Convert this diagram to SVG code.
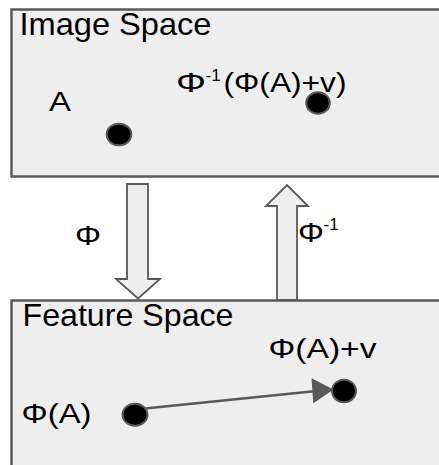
<svg xmlns="http://www.w3.org/2000/svg" width="439" height="465" viewBox="0 0 439 465">
  <style>
    .panel { fill: #eeeeee; stroke: #595959; stroke-width: 2.5; }
    .block { fill: #eeeeee; stroke: #595959; stroke-width: 1.8; stroke-linejoin: miter; }
    .dot { fill: #000000; stroke: #595959; stroke-width: 2; }
    .vec { stroke: #595959; stroke-width: 2.5; fill: none; }
    .head { fill: #595959; stroke: none; }
    text { font-family: "Liberation Sans", Arial, sans-serif; fill: #000000; }
    .title { font-size: 30.5px; }
    .lbl { font-size: 28px; }
    .sup { font-size: 17px; }
  </style>
  <rect width="439" height="465" fill="#ffffff"/>

  <!-- Image space panel -->
  <g id="image-space">
    <rect class="panel" x="11.5" y="9.5" width="440" height="167"/>
    <text class="title" x="19.5" y="34.5" textLength="192" lengthAdjust="spacingAndGlyphs">Image Space</text>
  </g>

  <!-- Feature space panel -->
  <g id="feature-space">
    <rect class="panel" x="11.5" y="300.5" width="440" height="180"/>
    <text class="title" x="22.5" y="326" textLength="211" lengthAdjust="spacingAndGlyphs">Feature Space</text>
  </g>

  <!-- Mapping arrows between the spaces -->
  <g id="phi-arrow">
    <polygon class="block" points="127,184 148,184 148,279 160,279 138,298.5 116,279 127,279"/>
    <text class="lbl" x="75" y="245" textLength="26" lengthAdjust="spacingAndGlyphs">Φ</text>
  </g>
  <g id="phi-inv-arrow">
    <polygon class="block" points="277,300 277,206 266,206 287,185 308,206 297,206 297,300"/>
    <text class="lbl" x="298" y="241.5"><tspan textLength="26" lengthAdjust="spacingAndGlyphs">Φ</tspan><tspan class="sup" x="323.5" y="230">-1</tspan></text>
  </g>

  <!-- Connectors -->
  <g id="connectors">
    <line class="vec" x1="140" y1="409" x2="314" y2="391.3"/>
    <polygon class="head" points="311.5,378.3 333.5,389.5 313.3,403.3"/>
  </g>

  <!-- Points in image space -->
  <g id="point-a">
    <ellipse class="dot" cx="119" cy="134.5" rx="12.3" ry="10.8"/>
    <text class="lbl" x="49" y="110.7" textLength="22" lengthAdjust="spacingAndGlyphs">A</text>
  </g>
  <g id="point-a-moved">
    <ellipse class="dot" cx="318" cy="103" rx="11.8" ry="10.8"/>
    <text class="lbl" x="176" y="92.3"><tspan textLength="30" lengthAdjust="spacingAndGlyphs">Φ</tspan><tspan class="sup" x="205.5" y="81">-1</tspan><tspan x="223.5" y="92.3" textLength="123" lengthAdjust="spacingAndGlyphs">(Φ(A)+v)</tspan></text>
  </g>

  <!-- Points in feature space -->
  <g id="point-phi-a">
    <ellipse class="dot" cx="135" cy="414.7" rx="12.5" ry="11"/>
    <text class="lbl" x="21.5" y="423" textLength="70" lengthAdjust="spacingAndGlyphs">Φ(A)</text>
  </g>
  <g id="point-phi-a-v">
    <ellipse class="dot" cx="344" cy="391" rx="12" ry="11.3"/>
    <text class="lbl" x="268.5" y="358.3" textLength="108" lengthAdjust="spacingAndGlyphs">Φ(A)+v</text>
  </g>
</svg>
